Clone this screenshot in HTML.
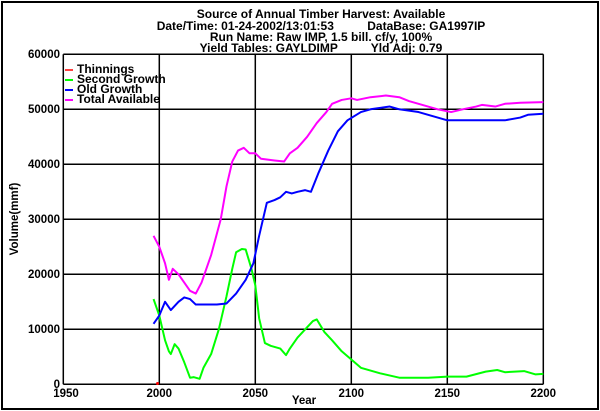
<!DOCTYPE html>
<html><head><meta charset="utf-8"><style>
html,body{margin:0;padding:0;background:#fff;}
svg{display:block;}
text{font-family:"Liberation Sans",Arial,sans-serif;font-weight:bold;fill:#000;white-space:pre;}
</style></head><body>
<svg width="600" height="411" viewBox="0 0 600 411" xml:space="preserve">
<rect x="0" y="0" width="600" height="411" fill="#fff"/>
<rect x="2" y="2" width="596" height="407" fill="none" stroke="#000" stroke-width="2"/>
<g font-size="12" text-anchor="middle">
<text x="321" y="18">Source of Annual Timber Harvest: Available</text>
<text x="321" y="30">Date/Time: 01-24-2002/13:01:53          DataBase: GA1997IP</text>
<text x="321" y="41">Run Name: Raw IMP, 1.5 bill. cf/y, 100%</text>
<text x="321" y="52">Yield Tables: GAYLDIMP          Yld Adj: 0.79</text>
</g>
<g stroke="#000" stroke-width="1.5" fill="none">
<line x1="63.3" y1="54.3" x2="543.3" y2="54.3"/>
<line x1="63.3" y1="109.3" x2="543.3" y2="109.3"/>
<line x1="63.3" y1="164.3" x2="543.3" y2="164.3"/>
<line x1="63.3" y1="219.3" x2="543.3" y2="219.3"/>
<line x1="63.3" y1="274.3" x2="543.3" y2="274.3"/>
<line x1="63.3" y1="329.3" x2="543.3" y2="329.3"/>
<line x1="63.3" y1="384.3" x2="543.3" y2="384.3"/>
<line x1="63.3" y1="54.3" x2="63.3" y2="384.3"/>
<line x1="159.3" y1="54.3" x2="159.3" y2="384.3"/>
<line x1="255.3" y1="54.3" x2="255.3" y2="384.3"/>
<line x1="351.3" y1="54.3" x2="351.3" y2="384.3"/>
<line x1="447.3" y1="54.3" x2="447.3" y2="384.3"/>
<line x1="543.3" y1="54.3" x2="543.3" y2="384.3"/>
</g>
<g font-size="11.5" text-anchor="end">
<text x="60" y="58">60000</text>
<text x="60" y="113">50000</text>
<text x="60" y="168">40000</text>
<text x="60" y="223">30000</text>
<text x="60" y="278">20000</text>
<text x="60" y="333">10000</text>
<text x="60" y="388">0</text>
</g>
<g font-size="11.5" text-anchor="middle">
<text x="66" y="397">1950</text>
<text x="159.3" y="397">2000</text>
<text x="255.3" y="397">2050</text>
<text x="351.3" y="397">2100</text>
<text x="447.3" y="397">2150</text>
<text x="543.3" y="397">2200</text>
<text x="304" y="404">Year</text>
</g>
<text font-size="11.5" text-anchor="middle" transform="translate(18,219) rotate(-90)">Volume(mmf)</text>
<g font-size="12">
<line x1="65" y1="70" x2="73" y2="70" stroke="#f00" stroke-width="1.5"/><text x="77" y="73">Thinnings</text>
<line x1="65" y1="80" x2="73" y2="80" stroke="#0f0" stroke-width="2"/><text x="77" y="83">Second Growth</text>
<line x1="65" y1="90" x2="73" y2="90" stroke="#00f" stroke-width="2"/><text x="77" y="93">Old Growth</text>
<line x1="65" y1="100" x2="73" y2="100" stroke="#f0f" stroke-width="2"/><text x="77" y="103">Total Available</text>
</g>
<g transform="translate(63.3,384.3) scale(1.92,-0.0055)" fill="none" stroke-width="2" stroke-linejoin="round">
<polyline vector-effect="non-scaling-stroke" stroke="#0f0" points="47,15500 50,12500 53,8000 55,6000 56,5500 58,7300 60,6500 63,4000 66,1200 68,1300 71,1000 73,3000 77,5500 81,10000 85,16000 88,21000 90,24000 93,24600 95,24500 98,21000 100,18000 102,12000 105,7500 108,7000 113,6500 116,5300 118,6500 122,8500 126,10000 130,11500 132,11800 136,9500 140,8000 145,6000 150,4500 155,3000 165,2000 175,1200 190,1200 200,1400 210,1400 220,2300 226,2600 230,2200 240,2400 246,1800 250,1900"/>
<polyline vector-effect="non-scaling-stroke" stroke="#00f" points="47,11000 50,12500 53,15000 56,13500 60,15000 63,15800 66,15500 69,14500 80,14500 85,14700 90,16500 95,19000 99,22000 102,27000 106,33000 110,33500 113,34000 116,35000 119,34700 122,35000 126,35300 129,35000 133,38500 138,42500 143,46000 148,48000 155,49500 160,50000 170,50500 175,50000 185,49500 195,48500 200,48000 230,48000 238,48500 242,49000 250,49200"/>
<polyline vector-effect="non-scaling-stroke" stroke="#f0f" points="47,27000 50,25000 53,22000 55,19000 57,21000 60,20000 63,18500 66,17000 69,16500 72,18500 77,23500 82,30000 85,36000 88,40500 91,42500 94,43000 97,42000 100,42000 103,41000 110,40700 115,40500 118,42000 122,43000 127,45000 132,47500 137,49500 140,51000 145,51700 150,52000 153,51700 160,52200 168,52500 175,52200 180,51500 190,50500 195,50000 202,49500 208,50000 215,50500 218,50800 225,50500 230,51000 238,51200 250,51300"/>
</g>
<circle cx="157.5" cy="383.5" r="1.5" fill="#f00"/>
</svg>
</body></html>
